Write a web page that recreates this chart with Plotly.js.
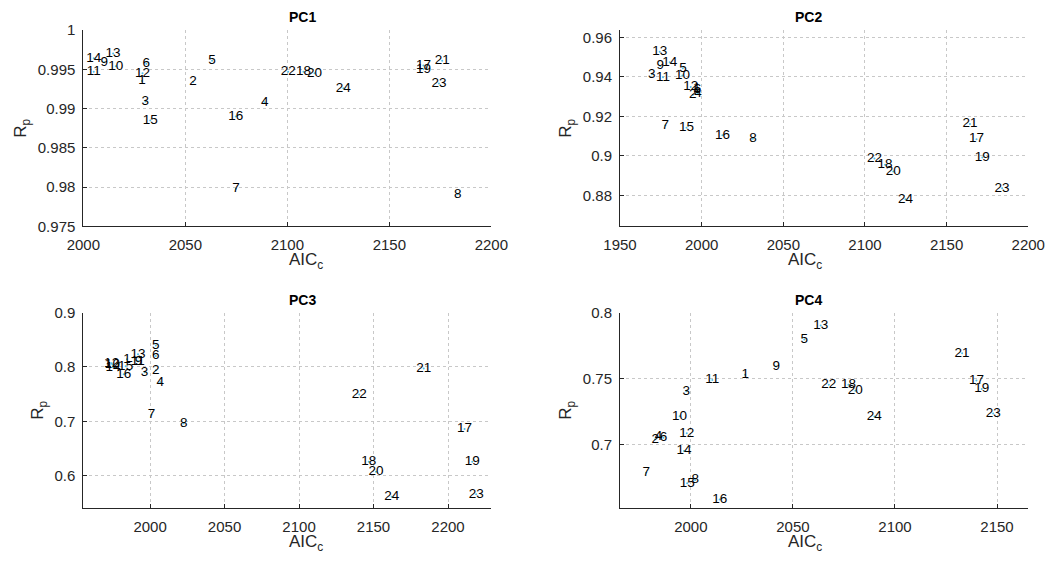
<!DOCTYPE html>
<html>
<head>
<meta charset="utf-8">
<script src="https://cdn.plot.ly/plotly-3.0.1.min.js"></script>
<style>html,body{margin:0;padding:0;background:#fff;}#chart{width:1047px;height:563px;}</style>
</head>
<body>
<div id="chart"></div>
<script>
// point labels (model numbers 1..24)
const labels = ["1","2","3","4","5","6","7","8","9","10","11","12","13","14","15","16","17","18","19","20","21","22","23","24"];

// PC1
const pc1_aic = [2028.8,2053.8,2030.4,2088.9,2063.1,2030.9,2074.8,2183.5,2010.3,2015.9,2005.1,2029.0,2014.6,2005.1,2032.8,2074.7,2166.7,2107.9,2166.7,2113.3,2175.9,2100.4,2174.3,2127.4];
const pc1_rp  = [0.9935,0.9934,0.9909,0.9908,0.9961,0.9957,0.9798,0.9791,0.9959,0.9954,0.9947,0.9945,0.9970,0.9964,0.9885,0.9890,0.9955,0.9947,0.9950,0.9945,0.9961,0.9947,0.9932,0.9926];

// PC2
const pc2_aic = [1997.0,1994.6,1969.5,1997.7,1988.5,1997.5,1977.7,2031.4,1974.7,1988.2,1976.3,1993.3,1974.3,1980.4,1990.7,2012.7,2168.3,2112.3,2171.9,2117.3,2164.3,2105.8,2184.0,2124.8];
const pc2_rp  = [0.9341,0.9310,0.9413,0.9316,0.9443,0.9333,0.9154,0.9087,0.9455,0.9407,0.9398,0.9349,0.9527,0.9474,0.9142,0.9105,0.9085,0.8955,0.8992,0.8921,0.9162,0.8987,0.8837,0.8781];

// PC3
const pc3_aic = [1984.5,2003.9,1996.3,2006.9,2003.9,2003.9,2000.9,2022.6,1992.3,1974.7,1991.7,1974.2,1991.9,1975.1,1983.6,1982.3,2211.1,2146.8,2216.3,2151.6,2183.7,2140.4,2218.9,2162.2];
const pc3_rp  = [0.8142,0.7939,0.7903,0.7719,0.8393,0.8202,0.7118,0.6960,0.8105,0.8044,0.8105,0.8068,0.8233,0.7994,0.8013,0.7866,0.6860,0.6254,0.6254,0.6070,0.7970,0.7493,0.5660,0.5610];

// PC4
const pc4_aic = [2026.6,1982.5,1997.7,1984.2,2055.6,1986.6,1978.1,2002.1,2041.8,1994.5,2010.5,1998.0,2063.6,1996.6,1998.2,2014.1,2139.9,2077.2,2142.5,2080.6,2132.9,2067.6,2148.1,2089.9];
const pc4_rp  = [0.7528,0.7040,0.7403,0.7059,0.7795,0.7051,0.6786,0.6731,0.7590,0.7213,0.7489,0.7084,0.7902,0.6950,0.6706,0.6583,0.7485,0.7452,0.7420,0.7406,0.7692,0.7452,0.7235,0.7211];

const panelTitles = ["PC1","PC2","PC3","PC4"];
const xTitle = "AIC<sub>c</sub>";
const yTitle = "R<sub>p</sub>";

const FONT = "Liberation Sans, Arial, Helvetica, sans-serif";
const AX = "#262626";

function trace(x, y, xa, ya) {
  return {
    x: x, y: y, text: labels, xaxis: xa, yaxis: ya,
    type: "scatter", mode: "markers+text",
    textposition: "middle center",
    cliponaxis: false,
    marker: {size: 2, color: "#4DBEEE"},
    textfont: {family: FONT, size: 13.5, color: "#000"},
    hoverinfo: "x+y+text", showlegend: false
  };
}

const data = [
  trace(pc1_aic, pc1_rp, "x", "y"),
  trace(pc2_aic, pc2_rp, "x2", "y2"),
  trace(pc3_aic, pc3_rp, "x3", "y3"),
  trace(pc4_aic, pc4_rp, "x4", "y4")
];

function xaxis(domain, range, anchor, tickvals) {
  return {
    domain: domain, range: range, anchor: anchor, tickvals: tickvals,
    showline: true, linecolor: AX, linewidth: 1, mirror: false,
    ticks: "inside", ticklen: 4, tickcolor: AX, tickwidth: 1,
    showgrid: true, gridcolor: "#c8c8c8", griddash: "dot", gridwidth: 1,
    zeroline: false, tickfont: {family: FONT, size: 15, color: AX},
    ticklabelstandoff: 5
  };
}
function yaxis(domain, range, anchor, tickvals) {
  return {
    domain: domain, range: range, anchor: anchor, tickvals: tickvals,
    showline: true, linecolor: AX, linewidth: 1, mirror: false,
    ticks: "inside", ticklen: 4, tickcolor: AX, tickwidth: 1,
    showgrid: true, gridcolor: "#c8c8c8", griddash: "dot", gridwidth: 1,
    zeroline: false, tickfont: {family: FONT, size: 15, color: AX},
    ticklabelstandoff: 4,
    title: {text: yTitle, font: {family: FONT, size: 17, color: AX}, standoff: 6}
  };
}

const LX = [0.0796, 0.4693], RX = [0.5922, 0.9821];
const TY = [0.5977, 0.9467], BY = [0.0972, 0.4449];

function panelTitle(t, x, y) {
  return {text: "<b>" + t + "</b>", xref: "paper", yref: "paper", x: x, y: y,
    yanchor: "bottom", yshift: 3, showarrow: false, font: {family: FONT, size: 14, color: "#000"}};
}
function xTitleAnn(x, y) {
  return {text: xTitle, xref: "paper", yref: "paper", x: x, y: y,
    yanchor: "top", yshift: -22, showarrow: false, font: {family: FONT, size: 17, color: AX}};
}

const layout = {
  width: 1047, height: 563,
  margin: {l: 0, r: 0, t: 0, b: 0},
  paper_bgcolor: "#fff", plot_bgcolor: "#fff",
  font: {family: FONT, color: AX},
  xaxis:  xaxis(LX, [2000, 2200], "y",  [2000, 2050, 2100, 2150, 2200]),
  yaxis:  yaxis(TY, [0.975, 1], "x",    [0.975, 0.98, 0.985, 0.99, 0.995, 1]),
  xaxis2: xaxis(RX, [1950, 2200], "y2", [1950, 2000, 2050, 2100, 2150, 2200]),
  yaxis2: yaxis(TY, [0.8643, 0.9637], "x2", [0.88, 0.9, 0.92, 0.94, 0.96]),
  xaxis3: xaxis(LX, [1955.2, 2229.1], "y3", [2000, 2050, 2100, 2150, 2200]),
  yaxis3: yaxis(BY, [0.54, 0.9], "x3",  [0.6, 0.7, 0.8, 0.9]),
  xaxis4: xaxis(RX, [1965.3, 2165.3], "y4", [2000, 2050, 2100, 2150]),
  yaxis4: yaxis(BY, [0.6516, 0.8], "x4", [0.7, 0.75, 0.8]),
  annotations: [
    panelTitle(panelTitles[0], (LX[0]+LX[1])/2, TY[1]),
    panelTitle(panelTitles[1], (RX[0]+RX[1])/2, TY[1]),
    panelTitle(panelTitles[2], (LX[0]+LX[1])/2, BY[1]),
    panelTitle(panelTitles[3], (RX[0]+RX[1])/2, BY[1]),
    xTitleAnn((LX[0]+LX[1])/2, TY[0]),
    xTitleAnn((RX[0]+RX[1])/2, TY[0]),
    xTitleAnn((LX[0]+LX[1])/2, BY[0]),
    xTitleAnn((RX[0]+RX[1])/2, BY[0])
  ]
};

Plotly.newPlot("chart", data, layout, {displayModeBar: false, staticPlot: true});
</script>
</body>
</html>
